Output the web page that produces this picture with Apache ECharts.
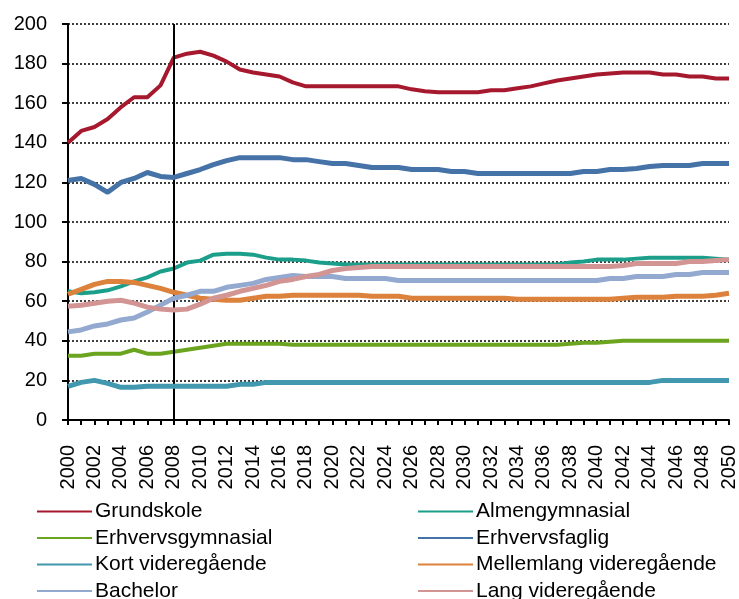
<!DOCTYPE html>
<html>
<head>
<meta charset="utf-8">
<script src="https://cdn.jsdelivr.net/npm/echarts@6/dist/echarts.min.js"></script>
<style>
html, body { margin: 0; padding: 0; background: #fff; }
#chart { width: 739px; height: 599px; }
</style>
</head>
<body>
<div id="chart"></div>
<script>
// år 2000-2050
var years = [];
for (var y = 2000; y <= 2050; y++) { years.push(String(y)); }

var yTicks = [0, 20, 40, 60, 80, 100, 120, 140, 160, 180, 200];

var grundskole = [140, 146, 148, 152, 158, 163, 163, 169, 183, 185, 186, 184, 181, 177, 175.5, 174.5, 173.5, 170.5, 168.5, 168.5,
    168.5, 168.5, 168.5, 168.5, 168.5, 168.5, 167, 166, 165.5, 165.5, 165.5, 165.5, 166.5, 166.5, 167.5, 168.5, 170, 171.5, 172.5, 173.5,
    174.5, 175, 175.5, 175.5, 175.5, 174.5, 174.5, 173.5, 173.5, 172.5, 172.5];
var almengymnasial = [65, 64, 64.5, 65.5, 67.5, 70, 72, 75, 76.5, 79.5, 80.5, 83.5, 84, 84, 83.5, 82, 81, 81, 80.5, 79.5,
    79, 78.5, 78.5, 78.5, 78.5, 78.5, 78.5, 78.5, 78.5, 78.5, 78.5, 78.5, 78.5, 78.5, 78.5, 78.5, 78.5, 78.5, 79.5, 80,
    81, 81, 81, 81.5, 82, 82, 82, 82, 82, 81.5, 81];
var erhvervsgymnasial = [32.5, 32.5, 33.5, 33.5, 33.5, 35.5, 33.5, 33.5, 34.5, 35.5, 36.5, 37.5, 38.5, 38.5, 38.5, 38.5, 38.5, 38, 38, 38,
    38, 38, 38, 38, 38, 38, 38, 38, 38, 38, 38, 38, 38, 38, 38, 38, 38, 38, 38.5, 39,
    39, 39.5, 40, 40, 40, 40, 40, 40, 40, 40, 40];
var erhvervsfaglig = [121, 122, 119, 115, 120, 122, 125, 123, 122.5, 124.5, 126.5, 129, 131, 132.5, 132.5, 132.5, 132.5, 131.5, 131.5, 130.5,
    129.5, 129.5, 128.5, 127.5, 127.5, 127.5, 126.5, 126.5, 126.5, 125.5, 125.5, 124.5, 124.5, 124.5, 124.5, 124.5, 124.5, 124.5, 124.5, 125.5,
    125.5, 126.5, 126.5, 127, 128, 128.5, 128.5, 128.5, 129.5, 129.5, 129.5];
var kortVideregaaende = [17, 19, 20, 18.5, 16.5, 16.5, 17, 17, 17, 17, 17, 17, 17, 18, 18, 19, 19, 19, 19, 19,
    19, 19, 19, 19, 19, 19, 19, 19, 19, 19, 19, 19, 19, 19, 19, 19, 19, 19, 19, 19,
    19, 19, 19, 19, 19, 20, 20, 20, 20, 20, 20];
var mellemlang = [63.5, 66, 68.5, 70, 70, 69.5, 68, 66.5, 64.5, 63, 61.5, 61, 60.5, 60.5, 61.5, 62.5, 62.5, 63, 63, 63,
    63, 63, 63, 62.5, 62.5, 62.5, 61.5, 61.5, 61.5, 61.5, 61.5, 61.5, 61.5, 61.5, 61, 61, 61, 61, 61, 61,
    61, 61, 61.5, 62, 62, 62, 62.5, 62.5, 62.5, 63, 64];
var bachelor = [44.5, 45.5, 47.5, 48.5, 50.5, 51.5, 54.5, 58, 61.5, 63, 65, 65, 67, 68, 69, 71, 72, 73, 72.5, 72.5,
    72.5, 71.5, 71.5, 71.5, 71.5, 70.5, 70.5, 70.5, 70.5, 70.5, 70.5, 70.5, 70.5, 70.5, 70.5, 70.5, 70.5, 70.5, 70.5, 70.5,
    70.5, 71.5, 71.5, 72.5, 72.5, 72.5, 73.5, 73.5, 74.5, 74.5, 74.5];
var langVideregaaende = [57.5, 58, 59, 60, 60.5, 59, 57, 56, 55.5, 56, 58.5, 61.5, 63, 65, 66.5, 68, 70, 71, 72.5, 73.5,
    75.5, 76.5, 77, 77.5, 77.5, 77.5, 77.5, 77.5, 77.5, 77.5, 77.5, 77.5, 77.5, 77.5, 77.5, 77.5, 77.5, 77.5, 77.5, 77.5,
    77.5, 77.5, 78, 79, 79, 79, 79, 80, 80, 80.5, 81];

var names = ['Grundskole', 'Almengymnasial', 'Erhvervsgymnasial', 'Erhvervsfaglig',
    'Kort videregående', 'Mellemlang videregående', 'Bachelor', 'Lang videregående'];
var seriesData = [grundskole, almengymnasial, erhvervsgymnasial, erhvervsfaglig,
    kortVideregaaende, mellemlang, bachelor, langVideregaaende];
var colors = ['#A5182D', '#1B9E8A', '#6BA41F', '#4572A7', '#4198AF', '#DC823C', '#93A9CF', '#D39494'];
var widths = [4, 4, 4, 5, 5, 5, 5, 5];

var fontFam = '"Liberation Sans", Arial, sans-serif';

var series = [];
for (var i = 0; i < names.length; i++) {
    var s = {
        name: names[i],
        type: 'line',
        data: seriesData[i],
        symbol: 'none',
        smooth: false,
        color: colors[i],
        lineStyle: { width: widths[i], color: colors[i] },
        z: 2 + i
    };
    if (i == 0) {
        // lodret linje ved 2008
        s.markLine = {
            silent: true,
            symbol: 'none',
            label: { show: false },
            lineStyle: { color: '#000', width: 2, type: 'solid' },
            data: [{ xAxis: '2008' }]
        };
    }
    series.push(s);
}

var legendBase = {
    orient: 'vertical',
    itemWidth: 55,
    itemHeight: 14,
    itemGap: 5.5,
    height: 140,
    icon: 'path://M0,6 L55,6 L55,8 L0,8 Z',
    textStyle: { fontSize: 21, fontFamily: fontFam, color: '#000', lineHeight: 21, padding: [0, 0, 0, -2] },
    padding: 0
};

var chart = echarts.init(document.getElementById('chart'));
var option = {
    animation: false,
    backgroundColor: '#fff',
    grid: { left: 68, right: 8, top: 24, bottom: 179, containLabel: false },
    legend: [
        Object.assign({}, legendBase, { left: 37, top: 501, data: [names[0], names[2], names[4], names[6]] }),
        Object.assign({}, legendBase, { left: 418, top: 501, data: [names[1], names[3], names[5], names[7]] })
    ],
    xAxis: {
        type: 'category',
        data: years,
        boundaryGap: false,
        axisLine: { lineStyle: { color: '#000', width: 2 } },
        axisTick: { show: true, interval: 0, length: 5, lineStyle: { color: '#000', width: 2 } },
        axisLabel: { interval: 1, rotate: 90, margin: 25, fontSize: 20, fontFamily: fontFam, color: '#000' },
        splitLine: { show: false }
    },
    yAxis: {
        type: 'value',
        min: yTicks[0],
        max: yTicks[yTicks.length - 1],
        interval: 20,
        axisLine: { show: true, lineStyle: { color: '#000', width: 2 } },
        axisTick: { show: true, length: 6, lineStyle: { color: '#000', width: 2 } },
        axisLabel: { margin: 21, fontSize: 20, fontFamily: fontFam, color: '#000' },
        splitLine: { show: true, lineStyle: { color: '#000', width: 1.5, type: [2, 2] } }
    },
    series: series
};
chart.setOption(option);
</script>
</body>
</html>
